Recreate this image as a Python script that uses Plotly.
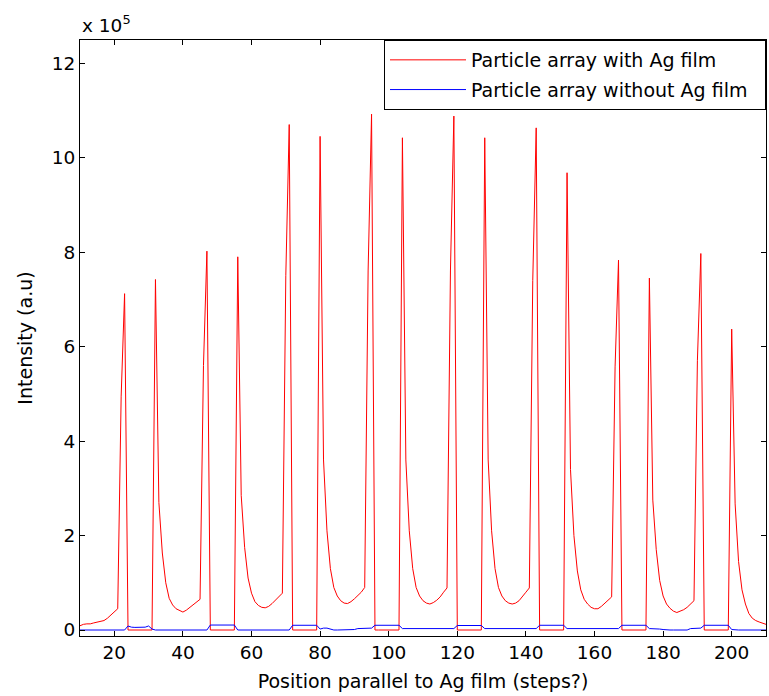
import plotly.graph_objects as go

# Scan positions (steps)
steps = list(range(10, 211))

# Intensity values in units of 1e5 (a.u.)
with_ag = [
    0.09, 0.12, 0.13, 0.13, 0.15, 0.17, 0.19, 0.20, 0.25, 0.32, 0.38, 0.45,   # 10-21
    4.95, 7.12,                                                               # 22-23
    0, 0, 0, 0, 0, 0, 0, 0,                                                   # 24-31
    7.42, 2.70, 1.63, 1.00, 0.67, 0.53, 0.45, 0.41, 0.38, 0.42, 0.48, 0.55, 0.60, 0.65,  # 32-45
    5.60, 8.02,                                                               # 46-47
    0, 0, 0, 0, 0, 0, 0, 0,                                                   # 48-55
    7.90, 2.85, 1.75, 1.10, 0.78, 0.60, 0.52, 0.48, 0.47, 0.50, 0.56, 0.63, 0.70, 0.78,  # 56-69
    7.50, 10.70,                                                              # 70-71
    0, 0, 0, 0, 0, 0, 0, 0,                                                   # 72-79
    10.45, 3.60, 2.10, 1.30, 0.90, 0.72, 0.62, 0.57, 0.56, 0.60, 0.66, 0.72, 0.80, 0.90,  # 80-93
    7.60, 10.92,                                                              # 94-95
    0, 0, 0, 0, 0, 0, 0, 0,                                                   # 96-103
    10.42, 3.60, 2.10, 1.30, 0.90, 0.72, 0.62, 0.57, 0.55, 0.58, 0.63, 0.70, 0.80, 0.89,  # 104-117
    7.60, 10.88,                                                              # 118-119
    0, 0, 0, 0, 0, 0, 0, 0,                                                   # 120-127
    10.42, 3.60, 2.10, 1.30, 0.90, 0.72, 0.62, 0.57, 0.55, 0.57, 0.62, 0.70, 0.80, 0.89,  # 128-141
    7.40, 10.63,                                                              # 142-143
    0, 0, 0, 0, 0, 0, 0, 0,                                                   # 144-151
    9.68, 3.40, 2.00, 1.25, 0.85, 0.65, 0.55, 0.48, 0.45, 0.45, 0.50, 0.56, 0.62, 0.70,  # 152-165
    5.57, 7.83,                                                               # 166-167
    0, 0, 0, 0, 0, 0, 0, 0,                                                   # 168-175
    7.45, 2.75, 1.70, 1.05, 0.72, 0.55, 0.46, 0.40, 0.37, 0.40, 0.43, 0.48, 0.55, 0.62,  # 176-189
    5.70, 7.97,                                                               # 190-191
    0, 0, 0, 0, 0, 0, 0, 0,                                                   # 192-199
    6.37, 2.67, 1.45, 0.85, 0.55, 0.35, 0.25, 0.20, 0.17, 0.14, 0.12,         # 200-210
]

without_ag = [
    0, 0, 0, 0, 0, 0, 0, 0, 0, 0, 0, 0, 0, 0,                                 # 10-23
    0.085, 0.06, 0.055, 0.055, 0.055, 0.06, 0.085, 0.02,                      # 24-31
    0, 0, 0, 0, 0, 0, 0, 0, 0, 0, 0, 0, 0, 0, 0, 0,                           # 32-47
    0.105, 0.105, 0.105, 0.105, 0.105, 0.105, 0.105, 0.105,                   # 48-55
    0, 0, 0, 0, 0, 0, 0, 0, 0, 0, 0, 0, 0, 0, 0, 0,                           # 56-71
    0.10, 0.10, 0.10, 0.10, 0.10, 0.10, 0.10, 0.10,                           # 72-79
    0.02, 0.04, 0.04, 0.02, 0, 0, 0, 0, 0, 0, 0.01, 0.03, 0.03, 0.03, 0.035, 0.04,  # 80-95
    0.10, 0.10, 0.10, 0.10, 0.10, 0.10, 0.10, 0.10,                           # 96-103
    0.03, 0.03, 0.03, 0.03, 0.03, 0.03, 0.03, 0.03, 0.03, 0.03, 0.03, 0.03, 0.03, 0.03, 0.03, 0.03,  # 104-119
    0.095, 0.095, 0.095, 0.095, 0.095, 0.095, 0.095, 0.095,                   # 120-127
    0.03, 0.03, 0.03, 0.03, 0.03, 0.03, 0.03, 0.03, 0.03, 0.03, 0.03, 0.03, 0.03, 0.03, 0.03, 0.03,  # 128-143
    0.10, 0.10, 0.10, 0.10, 0.10, 0.10, 0.10, 0.10,                           # 144-151
    0.03, 0.03, 0.03, 0.03, 0.03, 0.03, 0.03, 0.03, 0.03, 0.03, 0.03, 0.03, 0.03, 0.03, 0.03, 0.03,  # 152-167
    0.10, 0.10, 0.10, 0.10, 0.10, 0.10, 0.10, 0.10,                           # 168-175
    0.03, 0.03, 0.03, 0.02, 0.01, 0, 0, 0, 0, 0, 0, 0, 0.03, 0.03, 0.035, 0.04,  # 176-191
    0.10, 0.10, 0.10, 0.10, 0.10, 0.10, 0.10, 0.10,                           # 192-199
    0.01, 0, 0, 0, 0, 0, 0, 0, 0, 0, 0,                                       # 200-210
]

x_ticks = [20, 40, 60, 80, 100, 120, 140, 160, 180, 200]
y_ticks = [0, 2, 4, 6, 8, 10, 12]

FONT = "DejaVu Sans"

fig = go.Figure()
fig.add_trace(go.Scatter(x=steps, y=with_ag, mode="lines",
                         name="Particle array with Ag film&nbsp;&nbsp;",
                         line=dict(color="#ff0000", width=1), legendgroup="a"))
fig.add_trace(go.Scatter(x=steps, y=without_ag, mode="lines",
                         name="Particle array without Ag film&nbsp;&nbsp;",
                         line=dict(color="#0000ff", width=1), legendgroup="b"))

axis_common = dict(showline=True, linecolor="black", linewidth=1, mirror="ticks",
                   ticks="inside", ticklen=5, tickcolor="black", showgrid=False,
                   zeroline=False, tickfont=dict(family=FONT, size=18.5, color="black"))

fig.update_xaxes(range=[10, 210], tickvals=x_ticks, ticktext=[str(v) for v in x_ticks],
                 title=dict(text="Position parallel to Ag film (steps?)",
                            font=dict(family=FONT, size=19, color="black"), standoff=12),
                 **axis_common)
fig.update_yaxes(range=[-0.127, 12.49], tickvals=y_ticks, ticktext=[str(v) for v in y_ticks],
                 title=dict(text="Intensity (a.u)",
                            font=dict(family=FONT, size=19, color="black"), standoff=14),
                 **axis_common)

fig.update_layout(
    width=769, height=696,
    margin=dict(l=80, r=3, t=40, b=60),
    paper_bgcolor="white", plot_bgcolor="white",
    font=dict(family=FONT, size=18.5, color="black"),
    legend=dict(x=1, y=1, xanchor="right", yanchor="top", bgcolor="white",
                bordercolor="black", borderwidth=1, font=dict(family=FONT, size=19, color="black"),
                itemwidth=76, tracegroupgap=2),
    annotations=[dict(text="x 10<sup>5</sup>", xref="paper", yref="paper", x=0, y=1,
                      xanchor="left", yanchor="bottom", yshift=2, showarrow=False,
                      font=dict(family=FONT, size=18.5, color="black"))],
)

fig.write_html("out.html")
